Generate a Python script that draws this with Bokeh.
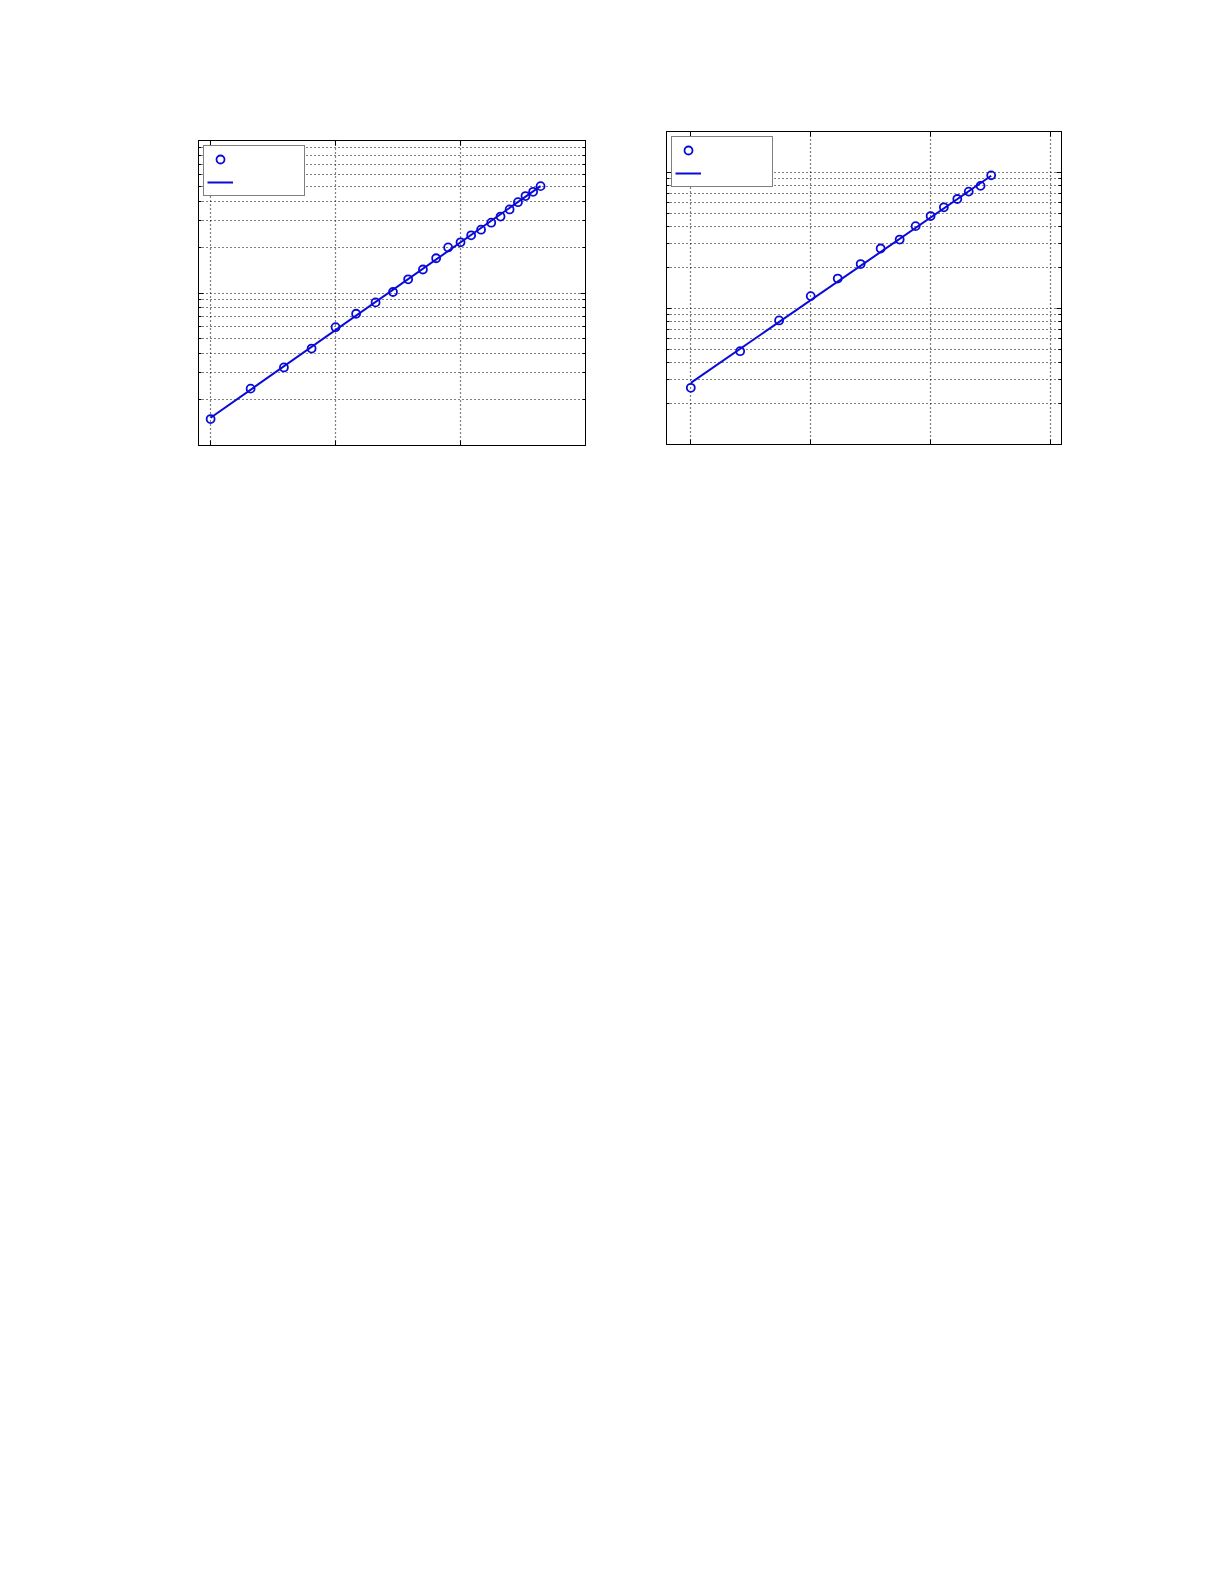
from bokeh.plotting import figure
from bokeh.layouts import row, column
from bokeh.models import (Range1d, LogAxis, FixedTicker, Legend, LegendItem,
                          CustomJSTickFormatter)
from bokeh.embed import file_html
from bokeh.resources import INLINE

# ---------------- data ----------------
# left panel
left_x = [10, 20.9, 38.6, 64.3, 100, 146, 209, 288, 381, 500, 638, 796,
          1000, 1216, 1460, 1760, 2090, 2470, 2880, 3310, 3810, 4370]
left_y = [0.149, 0.236, 0.325, 0.432, 0.597, 0.731, 0.868, 1.015, 1.23, 1.426,
          1.69, 1.99, 2.15, 2.39, 2.60, 2.89, 3.17, 3.53, 3.94, 4.32, 4.61, 5.02]
left_fit_x = [10, 4370]
left_fit_y = [0.152, 5.02]

# right panel
right_x = [10, 25.8, 54.5, 100, 168, 261, 383, 552, 750, 1000, 1290, 1670,
           2080, 2610, 3200]
right_y = [0.261, 0.485, 0.817, 1.233, 1.66, 2.12, 2.76, 3.21, 4.03, 4.78,
           5.54, 6.38, 7.23, 7.97, 9.52]
right_fit_x = [10, 3200]
right_fit_y = [0.284, 9.45]

# axis extents and ticks
left_xlim = (8, 10000)
left_ylim = (0.1, 10)
right_xlim = (6.27, 12350)
right_ylim = (0.1, 20)
x_major = [10, 100, 1000, 10000]
y_major = [0.1, 1, 10]
y_minor = [m * d for d in (0.1, 1, 10) for m in range(2, 10)]

BLUE = "#0a0ad8"


def style_axis(ax, minor=True):
    ax.formatter = CustomJSTickFormatter(code="return ''")
    ax.major_label_standoff = 0
    ax.axis_line_color = "black"
    ax.axis_line_width = 1
    ax.major_tick_in = 5
    ax.major_tick_out = 0
    ax.major_tick_line_color = "black"
    if minor:
        ax.minor_tick_in = 3
        ax.minor_tick_out = 0
        ax.minor_tick_line_color = "black"
    else:
        ax.minor_tick_line_color = None


def panel(xs, ys, fx, fy, xlim, ylim, fw, fh, bl, br, bt, bb):
    xt = FixedTicker(ticks=x_major, minor_ticks=[])
    yt = FixedTicker(ticks=y_major, minor_ticks=y_minor)
    p = figure(x_axis_type="log", y_axis_type="log",
               x_range=Range1d(*xlim), y_range=Range1d(*ylim),
               frame_width=fw, frame_height=fh,
               min_border_left=bl, min_border_right=br,
               min_border_top=bt, min_border_bottom=bb,
               toolbar_location=None, output_backend="svg",
               background_fill_color="white", border_fill_color="white")
    p.outline_line_color = "black"
    p.outline_line_width = 1

    p.xaxis.ticker = xt
    p.yaxis.ticker = yt
    for ax in p.xaxis:
        style_axis(ax, minor=False)
    for ax in p.yaxis:
        style_axis(ax, minor=True)

    top = LogAxis(ticker=xt)
    style_axis(top, minor=False)
    p.add_layout(top, "above")
    right = LogAxis(ticker=yt)
    style_axis(right, minor=True)
    p.add_layout(right, "right")

    p.xgrid.ticker = xt
    p.ygrid.ticker = yt
    for g in (p.xgrid, p.ygrid):
        g.grid_line_color = "black"
        g.grid_line_dash = "1 3"
        g.grid_line_width = 1.2
    p.ygrid.minor_grid_line_color = "black"
    p.ygrid.minor_grid_line_dash = "1 3"
    p.ygrid.minor_grid_line_width = 1.2

    ln = p.line(fx, fy, line_color=BLUE, line_width=2)
    sc = p.scatter(xs, ys, marker="circle", size=8, fill_color=None,
                   line_color=BLUE, line_width=1.8)

    legend = Legend(items=[LegendItem(label=" ", renderers=[sc]),
                           LegendItem(label=" ", renderers=[ln])],
                    location="top_left", margin=5, padding=3, spacing=3,
                    glyph_width=26, glyph_height=20, label_height=20,
                    label_width=64, label_standoff=4,
                    border_line_color="black", border_line_width=1,
                    background_fill_color="white", background_fill_alpha=1,
                    label_text_font_size="11px")
    p.add_layout(legend)
    return p


p1 = panel(left_x, left_y, left_fit_x, left_fit_y, left_xlim, left_ylim,
           387, 305, 198, 40, 140, 20)
p2 = panel(right_x, right_y, right_fit_x, right_fit_y, right_xlim, right_ylim,
           395, 313, 41, 20, 131, 20)

layout = row(column(p1), column(p2))
open("out.html", "w").write(file_html(layout, INLINE))
